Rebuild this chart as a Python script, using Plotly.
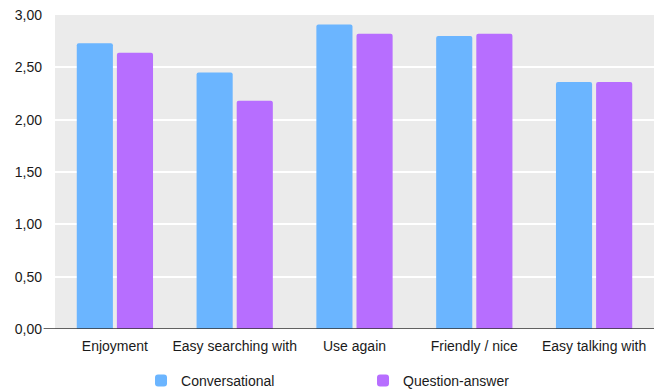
import plotly.graph_objects as go

categories = ["Enjoyment", "Easy searching with", "Use again", "Friendly / nice", "Easy talking with"]
conversational = [2.73, 2.45, 2.91, 2.80, 2.36]
question_answer = [2.64, 2.18, 2.82, 2.82, 2.36]
y_ticks = [0, 0.5, 1.0, 1.5, 2.0, 2.5, 3.0]

fig = go.Figure()
fig.add_trace(go.Bar(x=categories, y=conversational, name="Conversational",
                     marker=dict(color="#6bb5ff", cornerradius=2, line=dict(width=0))))
fig.add_trace(go.Bar(x=categories, y=question_answer, name="Question-answer",
                     marker=dict(color="#b76eff", cornerradius=2, line=dict(width=0))))

fig.update_layout(
    width=654, height=392,
    margin=dict(l=55, r=0, t=15, b=63),
    paper_bgcolor="white", plot_bgcolor="#ebebeb",
    font=dict(family="Liberation Sans, Arial, sans-serif", size=14, color="#1a1a1a"),
    separators=", ",
    barmode="group", bargap=0.33, bargroupgap=0.1,
    showlegend=True,
    legend=dict(orientation="h", x=0.1436, xanchor="left",
                yref="container", y=0.028, yanchor="middle",
                entrywidth=177, entrywidthmode="pixels", itemwidth=30,
                font=dict(size=14)),
    xaxis=dict(showgrid=False, ticks="", ticklabelstandoff=7, automargin=False),
    yaxis=dict(range=[0, 3.0], tickvals=y_ticks, tickformat=".2f",
               gridcolor="white", gridwidth=2, zeroline=False, ticks="",
               ticklabelstandoff=12, automargin=False),
    shapes=[dict(type="line", xref="paper", yref="y", x0=-0.019, x1=1, y0=0, y1=0,
                 line=dict(color="#333", width=1.5))],
)

fig.write_html("out.html")
